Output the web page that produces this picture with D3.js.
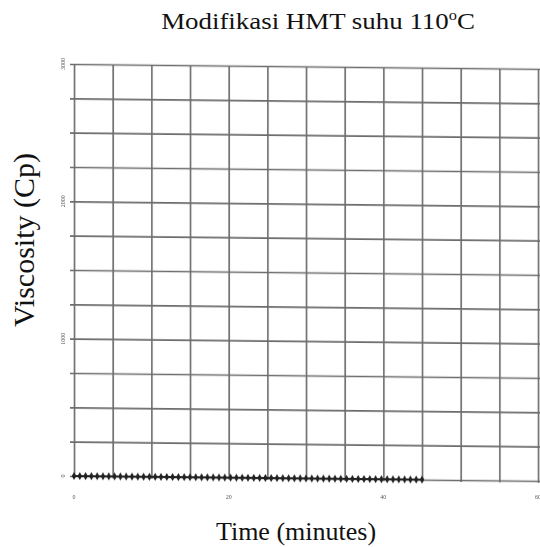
<!DOCTYPE html>
<html>
<head>
<meta charset="utf-8">
<script src="https://cdn.jsdelivr.net/npm/d3@7"></script>
<style>
  body { margin: 0; background: #fff; }
  text { font-family: "Liberation Serif", "Times New Roman", serif; }
</style>
</head>
<body>
<svg id="chart" width="540" height="547"></svg>
<script>
// readings (time in minutes, viscosity in cP) - curve sits flat on the zero line
const timeMin = [0, 0.75, 1.5, 2.25, 3, 3.75, 4.5, 5.25, 6, 6.75, 7.5, 8.25, 9, 9.75, 10.5,
  11.25, 12, 12.75, 13.5, 14.25, 15, 15.75, 16.5, 17.25, 18, 18.75, 19.5, 20.25, 21, 21.75,
  22.5, 23.25, 24, 24.75, 25.5, 26.25, 27, 27.75, 28.5, 29.25, 30, 30.75, 31.5, 32.25, 33,
  33.75, 34.5, 35.25, 36, 36.75, 37.5, 38.25, 39, 39.75, 40.5, 41.25, 42, 42.75, 43.5, 44.25, 45];
const viscosityCp = [0, 0, 0, 0, 0, 0, 0, 0, 0, 0, 0, 0, 0, 0, 0,
  0, 0, 0, 0, 0, 0, 0, 0, 0, 0, 0, 0, 0, 0, 0,
  0, 0, 0, 0, 0, 0, 0, 0, 0, 0, 0, 0, 0, 0, 0,
  0, 0, 0, 0, 0, 0, 0, 0, 0, 0, 0, 0, 0, 0, 0, 0];

const xGridValues = [0, 5, 10, 15, 20, 25, 30, 35, 40, 45, 50, 55, 60];
const yGridValues = [0, 250, 500, 750, 1000, 1250, 1500, 1750, 2000, 2250, 2500, 2750, 3000];
const xTickLabels = [0, 20, 40, 60];
const yTickLabels = [0, 1000, 2000, 3000];

const titleText = "Modifikasi HMT suhu 110";
const xLabel = "Time (minutes)";
const yLabel = "Viscosity (Cp)";

const svg = d3.select("#chart");

const plotLeft = 74, plotRight = 538, plotTop = 64, plotBottom = 476;

const x = d3.scaleLinear().domain([0, 60]).range([plotLeft, plotRight]);
const y = d3.scaleLinear().domain([0, 3000]).range([plotBottom, plotTop]);

// blur to mimic the scanned paper
const defs = svg.append("defs");
defs.append("filter").attr("id", "soft")
  .append("feGaussianBlur").attr("stdDeviation", 0.6);

// the scan is a little skewed: horizontals drop ~5px across the plot
const plot = svg.append("g")
  .attr("transform", "translate(" + plotLeft + ",0) skewY(0.6) translate(" + (-plotLeft) + ",0)")
  .attr("filter", "url(#soft)");

// vertical grid
plot.append("g")
  .attr("transform", "translate(0," + (plotBottom + 2) + ")")
  .call(d3.axisBottom(x).tickValues(xGridValues).tickSize(-(plotBottom + 2 - plotTop)).tickFormat(""))
  .call(g => g.select(".domain").remove())
  .call(g => g.selectAll("line").attr("stroke", "#6c6c6c").attr("stroke-width", 1.6));

// horizontal grid
plot.append("g")
  .attr("transform", "translate(" + (plotLeft - 4) + ",0)")
  .call(d3.axisLeft(y).tickValues(yGridValues).tickSize(-(544 - plotLeft)).tickFormat(""))
  .call(g => g.select(".domain").remove())
  .call(g => g.selectAll("line").attr("stroke", "#6c6c6c").attr("stroke-width", 1.6));

// data
const pts = timeMin.map((t, i) => [t, viscosityCp[i]]);
plot.append("path")
  .datum(pts)
  .attr("fill", "none")
  .attr("stroke", "#222")
  .attr("stroke-width", 2)
  .attr("d", d3.line().x(d => x(d[0])).y(d => y(d[1])));

plot.append("g").selectAll("path")
  .data(pts)
  .enter()
  .append("path")
  .attr("transform", d => "translate(" + x(d[0]) + "," + y(d[1]) + ")")
  .attr("d", d3.symbol(d3.symbolDiamond, 18))
  .attr("fill", "#222");

// tiny tick labels (barely legible in the scan)
const labels = svg.append("g").attr("filter", "url(#soft)");
labels.selectAll(".ylab")
  .data(yTickLabels)
  .enter()
  .append("text")
  .attr("class", "ylab")
  .attr("transform", d => "translate(65," + y(d) + ") rotate(-90)")
  .attr("text-anchor", "middle")
  .attr("font-size", 6)
  .attr("fill", "#555")
  .text(d => d);

labels.selectAll(".xlab")
  .data(xTickLabels)
  .enter()
  .append("text")
  .attr("class", "xlab")
  .attr("x", d => x(d))
  .attr("y", 499)
  .attr("text-anchor", "middle")
  .attr("font-size", 6)
  .attr("fill", "#555")
  .text(d => d);

// title (the scan stretched it sideways a little)
const title = svg.append("text")
  .attr("transform", "translate(318,29) scale(1.17,1)")
  .attr("text-anchor", "middle")
  .attr("font-size", 23)
  .attr("fill", "#111");
title.append("tspan").text(titleText);
title.append("tspan").attr("font-size", 14).attr("dy", -9).text("o");
title.append("tspan").attr("dy", 9).text("C");

svg.append("text")
  .attr("x", 296)
  .attr("y", 540)
  .attr("text-anchor", "middle")
  .attr("font-size", 26)
  .attr("fill", "#111")
  .text(xLabel);

svg.append("text")
  .attr("transform", "translate(34,240) rotate(-90)")
  .attr("text-anchor", "middle")
  .attr("font-size", 30)
  .attr("fill", "#111")
  .text(yLabel);
</script>
</body>
</html>
